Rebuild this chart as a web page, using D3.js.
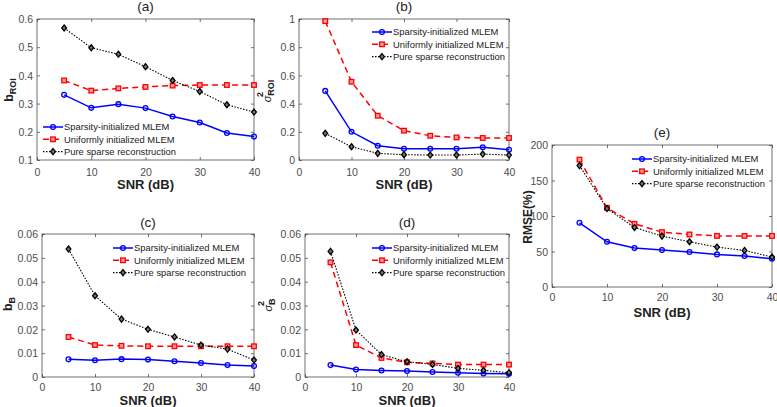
<!DOCTYPE html>
<html><head><meta charset="utf-8">
<script src="https://cdn.jsdelivr.net/npm/d3@7"></script>
<style>
body{margin:0;background:#fff;}
svg{display:block;font-family:"Liberation Sans",Arial,sans-serif;}
</style></head>
<body>
<svg id="c" width="777" height="407"></svg>
<script>
// ---- data ----
const snr = [5, 10, 15, 20, 25, 30, 35, 40];
const xTicks = [0, 10, 20, 30, 40];
const seriesNames = ["Sparsity-initialized MLEM", "Uniformly initialized MLEM", "Pure sparse reconstruction"];

const aSparsity = [0.331, 0.285, 0.298, 0.284, 0.254, 0.233, 0.196, 0.183];
const aUniform  = [0.382, 0.346, 0.354, 0.359, 0.364, 0.366, 0.366, 0.366];
const aPure     = [0.568, 0.498, 0.475, 0.431, 0.382, 0.343, 0.296, 0.270];
const aTicks = [0.1, 0.2, 0.3, 0.4, 0.5, 0.6];

const bSparsity = [0.490, 0.200, 0.101, 0.080, 0.080, 0.080, 0.090, 0.073];
const bUniform  = [0.985, 0.555, 0.314, 0.208, 0.172, 0.160, 0.156, 0.156];
const bPure     = [0.189, 0.094, 0.047, 0.038, 0.035, 0.035, 0.042, 0.035];
const bTicks = [0, 0.2, 0.4, 0.6, 0.8, 1];

const cSparsity = [0.0074, 0.0070, 0.0075, 0.0073, 0.0066, 0.0059, 0.0050, 0.0046];
const cUniform  = [0.0168, 0.0134, 0.0131, 0.0129, 0.0129, 0.0129, 0.0129, 0.0129];
const cPure     = [0.0537, 0.0341, 0.0243, 0.0200, 0.0168, 0.0134, 0.0117, 0.0071];
const cTicks = [0, 0.01, 0.02, 0.03, 0.04, 0.05, 0.06];

const dSparsity = [0.0050, 0.0031, 0.0027, 0.0025, 0.0021, 0.0018, 0.0015, 0.0014];
const dUniform  = [0.0481, 0.0134, 0.0080, 0.0062, 0.0057, 0.0052, 0.0052, 0.0052];
const dPure     = [0.0527, 0.0197, 0.0094, 0.0064, 0.0053, 0.0036, 0.0028, 0.0018];
const dTicks = [0, 0.01, 0.02, 0.03, 0.04, 0.05, 0.06];

const eSparsity = [90.4, 63.7, 54.8, 52.0, 49.2, 45.9, 43.6, 39.8];
const eUniform  = [179.4, 111.5, 89.0, 77.3, 74.0, 72.0, 72.0, 72.0];
const ePure     = [171.0, 110.5, 83.9, 71.7, 63.7, 56.2, 51.5, 42.2];
const eTicks = [0, 50, 100, 150, 200];

// ---- styles ----
const styles = [
  {color:"#0000ff", width:1.5, dash:null, marker:"circle"},
  {color:"#ff0000", width:1.5, dash:"6,4", marker:"square"},
  {color:"#000000", width:1.1, dash:"1.5,1.5", marker:"diamond"}
];
const axisColor = "#4d4d4d";

const panels = [
  {title:"(a)", L:37, R:254, T:19, B:160, yDom:[0.1,0.6], yTicks:aTicks, data:[aSparsity,aUniform,aPure],
   titleY:11, xLabY:189, tickY:175.5, leg:{x:43, y:127}, ylab:{kind:"b", sub:"ROI", x:12.5, y:90}},
  {title:"(b)", L:299, R:509, T:19, B:160, yDom:[0,1], yTicks:bTicks, data:[bSparsity,bUniform,bPure],
   titleY:11, xLabY:189, tickY:175.5, leg:{x:372, y:32}, ylab:{kind:"sigma", sub:"ROI", x:271, y:91}},
  {title:"(c)", L:42, R:254, T:234, B:377, yDom:[0,0.06], yTicks:cTicks, data:[cSparsity,cUniform,cPure],
   titleY:227, xLabY:405, tickY:390.5, leg:{x:113, y:248}, ylab:{kind:"b", sub:"B", x:12, y:304}},
  {title:"(d)", L:305, R:509, T:234, B:377, yDom:[0,0.06], yTicks:dTicks, data:[dSparsity,dUniform,dPure],
   titleY:227, xLabY:405, tickY:390.5, leg:{x:372, y:248}, ylab:{kind:"sigma", sub:"B", x:272, y:305}},
  {title:"(e)", L:552, R:772, T:145, B:287, yDom:[0,200], yTicks:eTicks, data:[eSparsity,eUniform,ePure],
   titleY:136.5, xLabY:316.5, tickY:301, leg:{x:632, y:159}, ylab:{kind:"text", text:"RMSE(%)", x:528, y:217}}
];

const svg = d3.select("#c");
const fmt = d => d3.format("~g")(d);

function drawMarker(g, type, x, y, color){
  if(type==="circle"){
    g.append("circle").attr("cx",x).attr("cy",y).attr("r",2.4)
      .attr("fill","none").attr("stroke",color).attr("stroke-width",1.3);
  } else if(type==="square"){
    g.append("rect").attr("x",x-2.3).attr("y",y-2.3).attr("width",4.6).attr("height",4.6)
      .attr("fill","#ff9a9a").attr("stroke",color).attr("stroke-width",1.3);
  } else {
    const s=3;
    g.append("path").attr("d",`M${x},${y-s}L${x+s*0.8},${y}L${x},${y+s}L${x-s*0.8},${y}Z`)
      .attr("fill","#777").attr("stroke",color).attr("stroke-width",1.3);
  }
}

panels.forEach(p=>{
  const x = d3.scaleLinear().domain([0,40]).range([p.L,p.R]);
  const y = d3.scaleLinear().domain(p.yDom).range([p.B,p.T]);
  const g = svg.append("g");

  // box
  g.append("rect").attr("x",p.L).attr("y",p.T).attr("width",p.R-p.L).attr("height",p.B-p.T)
    .attr("fill","none").attr("stroke",axisColor).attr("stroke-width",0.8);

  // axes with inward ticks
  const xa = g.append("g").attr("transform",`translate(0,${p.B})`)
    .call(d3.axisBottom(x).tickValues(xTicks).tickSize(-3).tickPadding(0).tickFormat(fmt));
  const xaTop = g.append("g").attr("transform",`translate(0,${p.T})`)
    .call(d3.axisTop(x).tickValues(xTicks).tickSize(-3).tickFormat(""));
  const ya = g.append("g").attr("transform",`translate(${p.L},0)`)
    .call(d3.axisLeft(y).tickValues(p.yTicks).tickSize(-3).tickPadding(4).tickFormat(fmt));
  const yaR = g.append("g").attr("transform",`translate(${p.R},0)`)
    .call(d3.axisRight(y).tickValues(p.yTicks).tickSize(-3).tickFormat(""));
  [xa,xaTop,ya,yaR].forEach(a=>{
    a.select(".domain").remove();
    a.selectAll(".tick line").attr("stroke",axisColor).attr("stroke-width",0.8);
    a.selectAll("text").attr("fill","#4d4d4d").attr("font-size","10.5px");
  });
  xa.selectAll(".tick text").attr("dy",null).attr("y", p.tickY - p.B);
  ya.selectAll(".tick text").attr("x",-4).attr("dy","0.35em");

  // title
  g.append("text").attr("x",(p.L+p.R)/2).attr("y",p.titleY).attr("text-anchor","middle")
    .attr("font-size","13.5px").attr("fill","#222").text(p.title);
  // x label
  g.append("text").attr("x",(p.L+p.R)/2).attr("y",p.xLabY).attr("text-anchor","middle")
    .attr("font-size","13px").attr("font-weight","bold").attr("fill","#222").text("SNR (dB)");

  // y label
  const yl = g.append("g").attr("transform",`translate(${p.ylab.x},${p.ylab.y}) rotate(-90)`);
  if(p.ylab.kind==="b"){
    const t = yl.append("text").attr("text-anchor","middle").attr("font-weight","bold").attr("fill","#222")
      .attr("font-size","12.5px");
    t.append("tspan").text("b");
    t.append("tspan").attr("dy",3).attr("font-size","9px").text(p.ylab.sub);
  } else if(p.ylab.kind==="sigma"){
    const t = yl.append("text").attr("text-anchor","middle").attr("font-weight","bold").attr("fill","#222")
      .attr("font-size","12px").attr("x",0);
    t.append("tspan").attr("font-style","italic").attr("font-weight","normal").attr("font-size","11px").text("σ");
    t.append("tspan").attr("dy",3).attr("font-size","9px").text(p.ylab.sub);
    const subStart = p.ylab.sub==="ROI" ? -6 : -1;
    yl.append("text").attr("x", subStart).attr("y",-8).attr("font-size","9px").attr("font-weight","bold")
      .attr("fill","#222").text("2");
  } else {
    yl.append("text").attr("text-anchor","middle").attr("font-weight","bold").attr("fill","#222")
      .attr("font-size","12px").attr("dy","0.35em").text(p.ylab.text);
  }

  // series
  p.data.forEach((vals,i)=>{
    const st = styles[i];
    const line = d3.line().x((d,j)=>x(snr[j])).y(d=>y(d));
    g.append("path").datum(vals).attr("d",line).attr("fill","none")
      .attr("stroke",st.color).attr("stroke-width",st.width)
      .attr("stroke-dasharray",st.dash);
    const mg = g.append("g");
    vals.forEach((v,j)=>drawMarker(mg, st.marker, x(snr[j]), y(v), st.color));
  });

  // legend
  seriesNames.forEach((name,i)=>{
    const st = styles[i];
    const ly = p.leg.y + i*12.3;
    g.append("line").attr("x1",p.leg.x).attr("x2",p.leg.x+20).attr("y1",ly).attr("y2",ly)
      .attr("stroke",st.color).attr("stroke-width",st.width).attr("stroke-dasharray",st.dash);
    drawMarker(g, st.marker, p.leg.x+10, ly, st.color);
    g.append("text").attr("x",p.leg.x+21).attr("y",ly).attr("dy","0.35em")
      .attr("font-size","9.4px").attr("fill","#222").text(name);
  });
});
</script>
</body></html>
